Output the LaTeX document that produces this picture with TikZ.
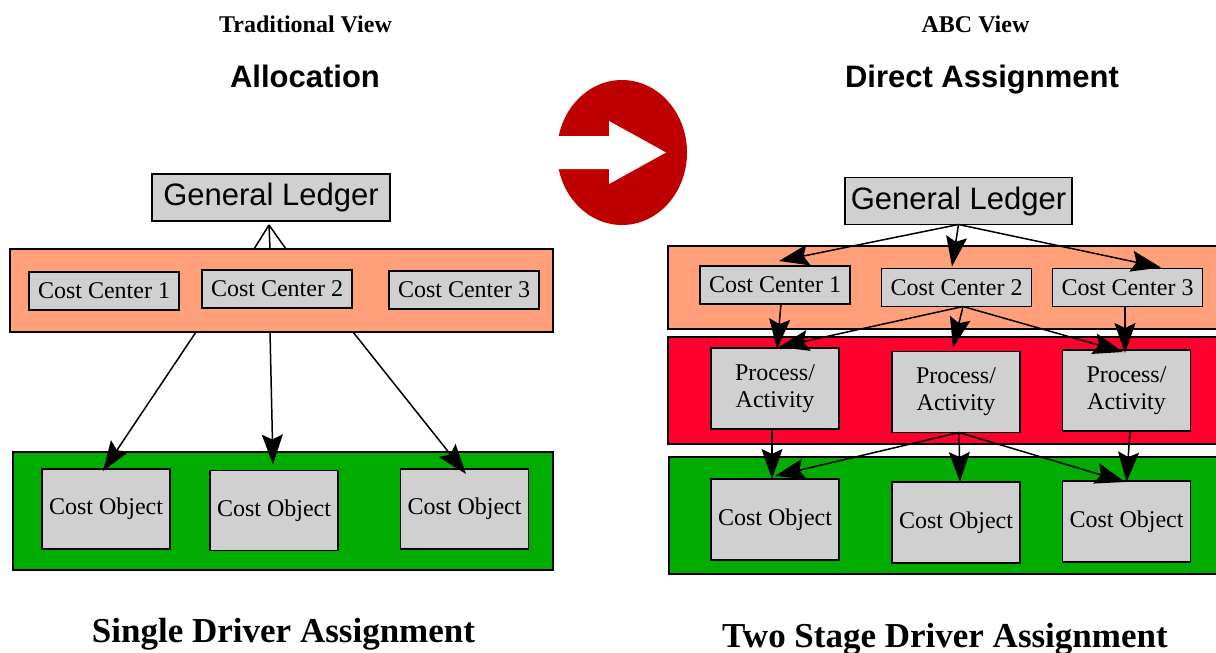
\documentclass[tikz,border=0pt]{standalone}
\usepackage{fontspec}
\setmainfont{Liberation Serif}
\newfontfamily\arialfont{Liberation Sans}
\usetikzlibrary{arrows.meta}

\definecolor{boxgray}{RGB}{208,208,208}
\definecolor{bandsalmon}{RGB}{255,160,122}
\definecolor{bandred}{RGB}{255,0,46}
\definecolor{bandgreen}{RGB}{0,172,0}
\definecolor{circred}{RGB}{191,0,0}

\tikzset{
  headtip/.tip={Stealth[length=30pt,width=21pt,inset=5pt]}
}

\begin{document}
\begin{tikzpicture}[x=1pt,y=-1pt,
  band/.style={draw=black, line width=1.2pt, inner sep=0pt, outer sep=0pt},
  box/.style={draw=black, line width=1.6pt, fill=boxgray, inner sep=0pt, outer sep=0pt,
    align=center, font=\fontsize{24}{27}\selectfont},
  ccbox/.style={box, minimum width=150pt, minimum height=38pt},
  objbox/.style={box, minimum width=128pt, minimum height=80pt},
  ledger/.style={box, minimum height=47pt, font=\arialfont\fontsize{31}{36}\selectfont},
  serifhead/.style={anchor=base, font=\bfseries\fontsize{24}{28}\selectfont},
  sanshead/.style={anchor=base, font=\arialfont\bfseries\fontsize{31}{36}\selectfont},
  foothead/.style={anchor=base, font=\bfseries\fontsize{35}{40}\selectfont},
  link/.style={draw=black, line width=1.5pt},
  arr/.style={link, -headtip}]

\useasboundingbox (0,0) rectangle (1216,653);
\clip (0,0) rectangle (1216,653);

% ---------- headings ----------
\node[serifhead] (tradview) at (305.5,32) {Traditional View};
\node[sanshead]  (alloc)    at (305,87)   {Allocation};
\node[serifhead] (abcview)  at (975.5,32) {ABC View};
\node[sanshead]  (direct)   at (982,87)   {Direct Assignment};
\node[foothead]  (single)   at (283.5,642) {Single Driver Assignment};
\node[foothead]  (twostage) at (945,647)   {Two Stage Driver Assignment};

% ---------- switch-over sign ----------
\fill[circred] (622,152.5) ellipse [x radius=65, y radius=72.5];
\fill[white] (550,136) -- (609,136) -- (609,121) -- (666,152.5)
  -- (609,184) -- (609,169) -- (550,169) -- cycle;

% ---------- traditional view ----------
\node[band, fill=bandsalmon, minimum width=543pt, minimum height=83pt]  (centersL) at (281.5,290.5) {};
\node[band, fill=bandgreen,  minimum width=540pt, minimum height=118pt] (objectsL) at (283,511) {};

\node[ledger, minimum width=238pt] (glL) at (271,197.5) {General Ledger};

\node[ccbox] (ccL1) at (104,291) {Cost Center 1};
\node[ccbox] (ccL2) at (277,289) {Cost Center 2};
\node[ccbox] (ccL3) at (464,290) {Cost Center 3};

\node[objbox] (coL1) at (106,509)   {Cost Object};
\node[objbox] (coL2) at (274,510.5) {Cost Object};
\node[objbox] (coL3) at (464.5,509) {Cost Object};

\coordinate (fanA) at (254,249);
\coordinate (fanB) at (270,249);
\coordinate (fanC) at (286,249);
\coordinate (outA) at (196,332);
\coordinate (outB) at (270,332);
\coordinate (outC) at (353,332);

\draw[link] ([xshift=-2pt,yshift=-4pt]glL.south) -- (fanA);
\draw[link] ([xshift=-2pt,yshift=-4pt]glL.south) -- (fanB);
\draw[link] ([xshift=-2pt,yshift=-4pt]glL.south) -- (fanC);

\draw[arr] (outA) -- ([xshift=-3pt,yshift=-2pt]coL1.north);
\draw[arr] (outB) -- ([xshift=-1pt,yshift=6pt]coL2.north);
\draw[arr] (outC) -- ([xshift=1.5pt,yshift=-5pt]coL3.north);

% ---------- ABC view ----------
\node[band, fill=bandsalmon, minimum width=562pt, minimum height=83pt]  (centersR)   at (949,287.5) {};
\node[band, fill=bandred,    minimum width=562pt, minimum height=107pt] (activitiesR) at (949,390.5) {};
\node[band, fill=bandgreen,  minimum width=561pt, minimum height=117pt] (objectsR)   at (949.5,515.5) {};

\node[ledger, minimum width=227pt] (glR) at (958.5,201) {General Ledger};

\node[ccbox] (ccR1) at (775,285)      {Cost Center 1};
\node[ccbox] (ccR2) at (956.5,287.5)  {Cost Center 2};
\node[ccbox] (ccR3) at (1127.5,287.5) {Cost Center 3};

\node[objbox, minimum height=81pt] (paR1) at (775,388.5)    {Process/\\Activity};
\node[objbox, minimum height=81pt] (paR2) at (956,392)      {Process/\\Activity};
\node[objbox, minimum height=81pt] (paR3) at (1126.5,390.5) {Process/\\Activity};

\node[objbox, minimum height=81pt] (coR1) at (775,519.5)    {Cost Object};
\node[objbox, minimum height=81pt] (coR2) at (956,522.5)    {Cost Object};
\node[objbox, minimum height=81pt] (coR3) at (1126.5,521.5) {Cost Object};

% ledger to cost centers
\draw[arr] (glR.south) -- ([xshift=4pt,yshift=5pt]ccR1.north);
\draw[arr] (glR.south) -- ([xshift=-4.5pt,yshift=2pt]ccR2.north);
\draw[arr] (glR.south) -- ([xshift=33.5pt,yshift=1pt]ccR3.north);

% cost centers to activities
\draw[arr] ([xshift=6pt]ccR1.south) -- ([xshift=2pt,yshift=-1pt]paR1.north);
\draw[arr] ([xshift=6.5pt]ccR2.south) -- ([xshift=4pt,yshift=1pt]paR1.north);
\draw[arr] ([xshift=6.5pt]ccR2.south) -- ([xshift=-3pt,yshift=4pt]paR2.north);
\draw[arr] ([xshift=6.5pt]ccR2.south) -- ([xshift=-3.5pt,yshift=-2pt]paR3.north);
\draw[arr] ([xshift=-2.5pt]ccR3.south) -- ([xshift=-1.5pt,yshift=-3pt]paR3.north);

% activities to cost objects
\draw[arr] ([xshift=-3pt]paR1.south) -- ([xshift=-3pt]coR1.north);
\draw[arr] ([xshift=3pt]paR2.south) -- ([yshift=3pt]coR1.north);
\draw[arr] ([xshift=3pt]paR2.south) -- ([xshift=4pt]coR2.north);
\draw[arr] ([xshift=3pt]paR2.south) -- ([xshift=-1.5pt,yshift=-1pt]coR3.north);
\draw[arr] ([xshift=3.5pt]paR3.south) -- ([yshift=-1pt]coR3.north);

\end{tikzpicture}
\end{document}
